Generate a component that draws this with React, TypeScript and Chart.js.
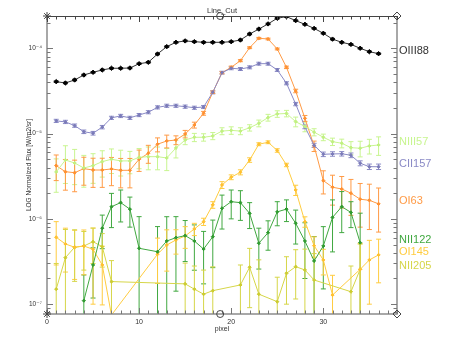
import React, { useEffect, useRef } from "react";
import { Chart, registerables } from "chart.js";

Chart.register(...registerables);

const pixels = [1, 2, 3, 4, 5, 6, 7, 8, 9, 10, 11, 12, 13, 14, 15, 16, 17, 18, 19, 20, 21, 22, 23, 24, 25, 26, 27, 28, 29, 30, 31, 32, 33, 34, 35, 36];

const OIII88 = [4.06e-5, 3.92e-5, 4.25e-5, 4.86e-5, 5.23e-5, 5.57e-5, 5.83e-5, 5.83e-5, 5.87e-5, 6.59e-5, 6.85e-5, 8.57e-5, 1.045e-4, 1.175e-4, 1.22e-4, 1.195e-4, 1.175e-4, 1.175e-4, 1.175e-4, 1.195e-4, 1.25e-4, 1.47e-4, 1.68e-4, 1.93e-4, 2.25e-4, 2.35e-4, 2.11e-4, 1.91e-4, 1.71e-4, 1.5e-4, 1.28e-4, 1.175e-4, 1.11e-4, 1.0e-4, 9.12e-5, 8.64e-5];
const OIII88Err = [0.8e-6, 0.8e-6, 0.85e-6, 1.0e-6, 1.05e-6, 1.1e-6, 1.15e-6, 1.15e-6, 1.15e-6, 1.3e-6, 1.35e-6, 1.7e-6, 2.1e-6, 2.3e-6, 2.4e-6, 2.4e-6, 2.3e-6, 2.3e-6, 2.3e-6, 2.4e-6, 2.5e-6, 2.9e-6, 3.3e-6, 3.8e-6, 4.5e-6, 4.7e-6, 4.2e-6, 3.8e-6, 3.4e-6, 3.0e-6, 2.6e-6, 2.3e-6, 2.2e-6, 2.0e-6, 1.8e-6, 1.7e-6];

const NIII57 = [3.55e-6, 4.9e-6, 4.52e-6, 3.95e-6, 4.21e-6, 4.69e-6, 5.0e-6, 4.78e-6, 4.78e-6, 5.27e-6, 5.36e-6, 5.36e-6, 5.18e-6, 6.78e-6, 8.41e-6, 9.05e-6, 9.05e-6, 9.38e-6, 1.07e-5, 1.09e-5, 1.07e-5, 1.17e-5, 1.32e-5, 1.54e-5, 1.7e-5, 1.72e-5, 1.38e-5, 1.21e-5, 1.04e-5, 9.05e-6, 8.04e-6, 7.7e-6, 6.84e-6, 6.73e-6, 7.16e-6, 7.35e-6];
const NIII57Err = [1.5e-6, 2.3e-6, 2.0e-6, 1.6e-6, 1.6e-6, 1.6e-6, 1.6e-6, 1.6e-6, 1.4e-6, 1.4e-6, 1.6e-6, 1.6e-6, 1.5e-6, 1.6e-6, 1.0e-6, 1.0e-6, 0.9e-6, 0.9e-6, 1.0e-6, 1.1e-6, 1.0e-6, 1.0e-6, 1.2e-6, 1.4e-6, 1.5e-6, 1.5e-6, 1.8e-6, 1.6e-6, 1.0e-6, 0.8e-6, 0.8e-6, 0.9e-6, 1.2e-6, 1.4e-6, 1.4e-6, 1.8e-6];

const CII157 = [1.41e-5, 1.37e-5, 1.24e-5, 1.05e-5, 1.01e-5, 1.19e-5, 1.53e-5, 1.61e-5, 1.53e-5, 1.65e-5, 1.78e-5, 2.03e-5, 2.12e-5, 2.12e-5, 2.07e-5, 2.01e-5, 2.05e-5, 3.05e-5, 5.18e-5, 5.83e-5, 5.72e-5, 5.98e-5, 6.6e-5, 6.6e-5, 5.57e-5, 3.89e-5, 2.22e-5, 1.2e-5, 7.29e-6, 5.72e-6, 5.77e-6, 5.8e-6, 5.57e-6, 4.49e-6, 4.09e-6, 4.09e-6];
const CII157Err = [0.6e-6, 0.6e-6, 0.55e-6, 0.5e-6, 0.5e-6, 0.55e-6, 0.65e-6, 0.7e-6, 0.65e-6, 0.7e-6, 0.75e-6, 0.85e-6, 0.9e-6, 0.9e-6, 0.9e-6, 0.85e-6, 0.85e-6, 1.3e-6, 2.0e-6, 2.3e-6, 2.3e-6, 2.4e-6, 2.6e-6, 2.6e-6, 2.2e-6, 1.6e-6, 1.0e-6, 0.6e-6, 0.4e-6, 0.35e-6, 0.35e-6, 0.35e-6, 0.35e-6, 0.3e-6, 0.3e-6, 0.3e-6];

const OI63 = [4.21e-6, 3.57e-6, 3.48e-6, 3.88e-6, 3.74e-6, 3.74e-6, 3.85e-6, 3.71e-6, 3.71e-6, 5.0e-6, 5.88e-6, 7.5e-6, 8.19e-6, 8.41e-6, 9.89e-6, 1.26e-5, 1.73e-5, 3.05e-5, 5.18e-5, 5.98e-5, 7.16e-5, 1.016e-4, 1.31e-4, 1.285e-4, 9.82e-5, 5.98e-5, 3.16e-5, 1.51e-5, 7.16e-6, 2.81e-6, 2.35e-6, 2.24e-6, 2.0e-6, 1.7e-6, 1.65e-6, 1.5e-6];
const OI63Err = [1.4e-6, 1.4e-6, 1.4e-6, 1.4e-6, 1.4e-6, 1.4e-6, 1.4e-6, 1.4e-6, 1.4e-6, 1.4e-6, 1.4e-6, 1.4e-6, 1.4e-6, 1.0e-6, 1.0e-6, 1.0e-6, 0.9e-6, 1.0e-6, 1.5e-6, 2.0e-6, 2.0e-6, 2.5e-6, 3.0e-6, 3.0e-6, 2.5e-6, 2.0e-6, 1.5e-6, 1.2e-6, 1.0e-6, 0.85e-6, 0.9e-6, 0.9e-6, 0.9e-6, 0.9e-6, 0.9e-6, 0.8e-6];

const NII122 = [null, null, null, 1.1e-7, 2.88e-7, 7.77e-7, 1.39e-6, 1.55e-6, 1.3e-6, 4.52e-7, null, 4.12e-7, 5.5e-7, 6.02e-7, 6.36e-7, 5.5e-7, 4.43e-7, 6.18e-7, 1.33e-6, 1.59e-6, 1.55e-6, 1.16e-6, 5.18e-7, 6.89e-7, 1.21e-6, 1.3e-6, 8.87e-7, 5.5e-7, 3.21e-7, 4.81e-7, 1.04e-6, 1.39e-6, 1.19e-6, 5.26e-7, null, null];
const NII122Err = [null, null, null, 1.1e-7, 1.7e-7, 3.3e-7, 6.0e-7, 6.3e-7, 5.0e-7, 6.1e-7, null, 4.0e-7, 5.1e-7, 4.6e-7, 3.2e-7, 3.0e-7, 2.7e-7, 3.5e-7, 5.7e-7, 5.9e-7, 5.9e-7, 3.9e-7, 2.6e-7, 2.6e-7, 3.8e-7, 3.7e-7, 3.8e-7, 3.5e-7, 3.0e-7, 3.3e-7, 6.3e-7, 7.0e-7, 4.0e-7, 6.4e-7, null, null];

const OI145 = [6.08e-7, 5.08e-7, 4.65e-7, 4.81e-7, 4.4e-7, 2.88e-7, 7.46e-8, null, null, null, null, 3.85e-7, 4.94e-7, 5.66e-7, 6.31e-7, 7.62e-7, 9.27e-7, 1.46e-6, 2.5e-6, 3.08e-6, 3.52e-6, 4.9e-6, 7.5e-6, 7.91e-6, 6.34e-6, 4.29e-6, 2.18e-6, 9.27e-7, 4.85e-7, 3.3e-7, 1.28e-7, null, null, 2.56e-7, 3.3e-7, 3.78e-7];
const OI145Err = [3.2e-7, 2.7e-7, 2.7e-7, 2.6e-7, 3.4e-7, 1.9e-7, null, null, null, null, null, 2.1e-7, 2.5e-7, 1.8e-7, 1.8e-7, 1.25e-7, 0.9e-7, 1.3e-7, 2.3e-7, 2.0e-7, 2.4e-7, 3.0e-7, 3.0e-7, 3.0e-7, 3.0e-7, 2.0e-7, 3.0e-7, 1.3e-7, 1.3e-7, 1.1e-7, 0.9e-7, null, null, 2.6e-7, 2.3e-7, 2.0e-7];

const NII205 = [1.5e-7, 3.51e-7, 4.65e-7, 4.81e-7, 5.4e-7, 4.72e-7, 1.84e-7, null, null, null, null, null, null, null, 1.73e-7, 1.5e-7, 1.31e-7, 1.44e-7, null, null, 1.68e-7, 2.71e-7, 1.31e-7, null, 1.07e-7, 2.3e-7, 2.75e-7, 2.52e-7, 1.92e-7, null, null, null, 1.4e-7, 2.56e-7, null, null];
const NII205Err = [1.5e-7, 4.0e-7, 2.8e-7, 2.3e-7, 2.4e-7, 2.0e-7, 1.4e-7, null, null, null, null, null, null, null, 1.3e-7, 1.3e-7, 1.2e-7, 1.3e-7, null, null, 1.2e-7, 1.8e-7, 2.0e-7, null, 1.0e-7, 1.3e-7, 1.6e-7, 1.9e-7, 2.0e-7, null, null, null, 1.4e-7, 2.5e-7, null, null];

const seriesNames = ["OIII88", "NIII57", "CII157", "OI63", "NII122", "OI145", "NII205"];
const seriesValues = [OIII88, NIII57, CII157, OI63, NII122, OI145, NII205];
const seriesErrors = [OIII88Err, NIII57Err, CII157Err, OI63Err, NII122Err, OI145Err, NII205Err];
const seriesColors = ["#333333", "#c8f590", "#8a8ac6", "#ff9a45", "#40a840", "#ffcc40", "#d6d648"];
const pointColors = ["#000000", "#c0f080", "#7a7ab8", "#ff9030", "#2f9a2f", "#ffc030", "#cccc30"];
const labelColors = ["#333333", "#c8f590", "#8a8ac6", "#ff9a45", "#40a840", "#ffcc40", "#d6d648"];
const pointSizes = [2.2, 1.6, 1.6, 1.6, 1.6, 1.6, 1.6];

const xTickValues = [0, 10, 20, 30];
const xTickLabels = ["0", "10", "20", "30"];
const yTickValues = [1e-7, 1e-6, 1e-5, 1e-4];
const yTickLabels = ["10⁻⁷", "10⁻⁶", "10⁻⁵", "10⁻⁴"];
const X_MIN = 0;
const X_MAX = 38;
const Y_MIN = 7.67e-8;
const Y_MAX = 2.39e-4;
const midMarkX = 18.8;

const FONT = '"Liberation Sans", "DejaVu Sans", Arial, sans-serif';

const decorPlugin = {
  id: "decor",
  beforeDatasetsDraw(chart: any) {
    const { ctx, chartArea: a, scales } = chart;
    const xs = scales.x;
    const ys = scales.y;
    ctx.save();
    ctx.beginPath();
    ctx.rect(a.left, a.top, a.right - a.left, a.bottom - a.top);
    ctx.clip();
    chart.data.datasets.forEach((ds: any) => {
      ctx.strokeStyle = ds.errColor;
      ctx.lineWidth = 1;
      ds.data.forEach((pt: any, i: number) => {
        const e = ds.errs[i];
        if (e == null) return;
        const px = xs.getPixelForValue(pt.x);
        const yt = ys.getPixelForValue(pt.y + e);
        const lo = pt.y - e;
        const yb = lo > 0 ? ys.getPixelForValue(lo) : a.bottom + 20;
        ctx.beginPath();
        ctx.moveTo(px, yt);
        ctx.lineTo(px, yb);
        ctx.moveTo(px - 2.5, yt);
        ctx.lineTo(px + 2.5, yt);
        ctx.moveTo(px - 2.5, yb);
        ctx.lineTo(px + 2.5, yb);
        ctx.stroke();
      });
    });
    ctx.restore();
  },
  afterDraw(chart: any) {
    const { ctx, chartArea: a, scales } = chart;
    const xs = scales.x;
    const ys = scales.y;
    ctx.save();
    ctx.strokeStyle = "#8c8c8c";
    ctx.lineWidth = 1.5;
    ctx.beginPath();
    ctx.moveTo(a.left, a.top);
    ctx.lineTo(a.left, a.bottom);
    ctx.lineTo(a.right, a.bottom);
    ctx.lineTo(a.right, a.top);
    ctx.stroke();
    ctx.strokeStyle = "#444444";
    ctx.lineWidth = 1;
    ctx.beginPath();
    ctx.moveTo(a.left, a.top + 0.5);
    ctx.lineTo(a.right, a.top + 0.5);
    ctx.stroke();

    ctx.lineWidth = 1;
    for (let v = X_MIN; v <= X_MAX; v += 1) {
      const px = Math.round(xs.getPixelForValue(v)) + 0.5;
      const len = v % 10 === 0 ? 6 : 3.5;
      ctx.strokeStyle = "#444444";
      ctx.beginPath();
      ctx.moveTo(px, a.top);
      ctx.lineTo(px, a.top + len);
      ctx.stroke();
      ctx.strokeStyle = "#777777";
      ctx.beginPath();
      ctx.moveTo(px, a.bottom);
      ctx.lineTo(px, a.bottom - len);
      ctx.stroke();
    }
    ctx.strokeStyle = "#777777";
    for (let d = -8; d <= -3; d++) {
      for (let m = 1; m <= 9; m++) {
        const v = m * Math.pow(10, d);
        if (v < Y_MIN || v > Y_MAX) continue;
        const py = Math.round(ys.getPixelForValue(v)) + 0.5;
        const len = m === 1 ? 6 : 3.5;
        ctx.beginPath();
        ctx.moveTo(a.left, py);
        ctx.lineTo(a.left + len, py);
        ctx.moveTo(a.right, py);
        ctx.lineTo(a.right - len, py);
        ctx.stroke();
      }
    }

    ctx.strokeStyle = "#444444";
    ctx.lineWidth = 1;
    const star = (x: number, y: number) => {
      ctx.beginPath();
      for (let k = 0; k < 4; k++) {
        const ang = (k * Math.PI) / 4;
        ctx.moveTo(x - 4 * Math.cos(ang), y - 4 * Math.sin(ang));
        ctx.lineTo(x + 4 * Math.cos(ang), y + 4 * Math.sin(ang));
      }
      ctx.stroke();
    };
    const diamond = (x: number, y: number) => {
      ctx.beginPath();
      ctx.moveTo(x, y - 4);
      ctx.lineTo(x + 4, y);
      ctx.lineTo(x, y + 4);
      ctx.lineTo(x - 4, y);
      ctx.closePath();
      ctx.stroke();
    };
    const circle = (x: number, y: number) => {
      ctx.beginPath();
      ctx.arc(x, y, 3.5, 0, Math.PI * 2);
      ctx.stroke();
    };
    star(a.left, a.top);
    star(a.left, a.bottom);
    diamond(a.right, a.top);
    diamond(a.right, a.bottom);
    circle(xs.getPixelForValue(midMarkX), a.top);
    circle(xs.getPixelForValue(midMarkX), a.bottom);

    ctx.fillStyle = "#333333";
    ctx.font = `7.5px ${FONT}`;
    ctx.textAlign = "center";
    ctx.textBaseline = "middle";
    ctx.fillText("Line_Cut", (a.left + a.right) / 2, 11);

    ctx.font = `11px ${FONT}`;
    ctx.textAlign = "left";
    chart.data.datasets.forEach((ds: any, i: number) => {
      const last = ds.data[ds.data.length - 1];
      const py = ys.getPixelForValue(last.y) - 3;
      ctx.fillStyle = labelColors[i];
      ctx.fillText(ds.label, a.right + 2, py);
    });
    ctx.restore();
  },
};

export default function App() {
  const ref = useRef<HTMLCanvasElement | null>(null);
  useEffect(() => {
    if (!ref.current) return;
    const datasets = seriesNames.map((name, s) => {
      const data: any[] = [];
      const errs: any[] = [];
      pixels.forEach((p, i) => {
        const v = seriesValues[s][i];
        if (v == null) return;
        data.push({ x: p, y: v });
        errs.push(seriesErrors[s][i]);
      });
      return {
        label: name,
        data,
        errs,
        errColor: seriesColors[s],
        borderColor: seriesColors[s],
        backgroundColor: pointColors[s],
        pointBackgroundColor: pointColors[s],
        pointBorderColor: pointColors[s],
        pointStyle: "rectRot",
        pointRadius: pointSizes[s],
        pointBorderWidth: 1,
        borderWidth: 1,
        tension: 0,
        fill: false,
      } as any;
    });
    const chart = new Chart(ref.current, {
      type: "line",
      data: { datasets },
      options: {
        animation: false,
        responsive: false,
        events: [],
        layout: { padding: { top: 16, right: 70, left: 0, bottom: 0 } },
        plugins: { legend: { display: false }, tooltip: { enabled: false }, title: { display: false } },
        scales: {
          x: {
            type: "linear",
            min: X_MIN,
            max: X_MAX,
            grid: { display: false, drawTicks: false },
            border: { display: false },
            afterFit: (scale: any) => {
              scale.height = 36;
            },
            afterBuildTicks: (scale: any) => {
              scale.ticks = xTickValues.map((v) => ({ value: v }));
            },
            ticks: {
              padding: 4,
              maxRotation: 0,
              color: "#333333",
              font: { size: 7, family: FONT },
              callback: (_v: any, i: number) => xTickLabels[i],
            },
            title: {
              display: true,
              text: "pixel",
              color: "#333333",
              font: { size: 7, family: FONT },
              padding: { top: 0, bottom: 16.5 },
            },
          },
          y: {
            type: "logarithmic",
            min: Y_MIN,
            max: Y_MAX,
            grid: { display: false, drawTicks: false },
            border: { display: false },
            afterFit: (scale: any) => {
              scale.width = 47;
            },
            afterBuildTicks: (scale: any) => {
              scale.ticks = yTickValues.map((v) => ({ value: v }));
            },
            ticks: {
              padding: 5,
              color: "#333333",
              font: { size: 6.5, family: FONT },
              callback: (_v: any, i: number) => yTickLabels[i],
            },
            title: {
              display: true,
              text: "LOG Normalized Flux [W/m2/sr]",
              color: "#333333",
              font: { size: 6.5, family: FONT },
              padding: { top: 25, bottom: 0 },
            },
          },
        },
      },
      plugins: [decorPlugin],
    } as any);
    return () => chart.destroy();
  }, []);
  return (
    <div style={{ position: "fixed", left: 0, top: 0, width: 467, height: 350, background: "#ffffff" }}>
      <canvas ref={ref} width={467} height={350} style={{ width: 467, height: 350 }} />
    </div>
  );
}
